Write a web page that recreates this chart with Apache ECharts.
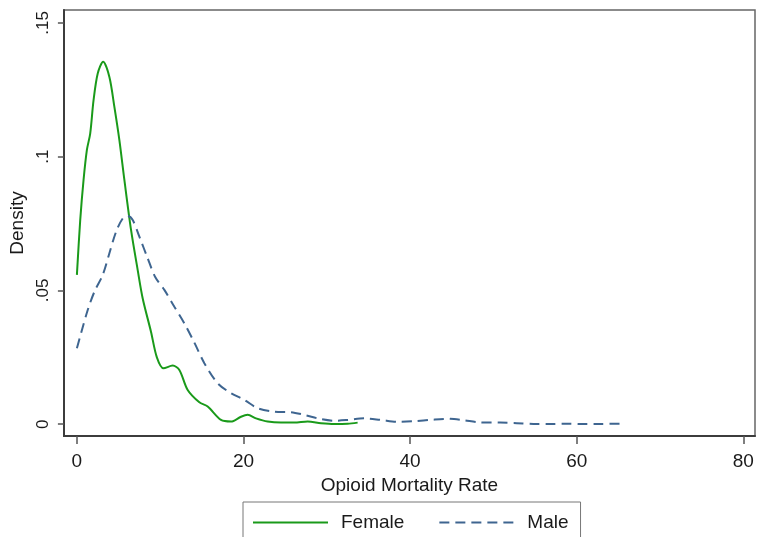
<!DOCTYPE html>
<html>
<head>
<meta charset="utf-8">
<script src="https://cdn.jsdelivr.net/npm/echarts@6/dist/echarts.min.js"></script>
<style>
  html, body { margin: 0; padding: 0; background: #ffffff; }
  #chart { width: 757px; height: 537px; }
</style>
</head>
<body>
<div id="chart"></div>
<script>
// Kernel density estimates of opioid mortality rate, by sex
const femaleRate = [0, 0.4, 0.8, 1.2, 1.6, 2.0, 2.5, 3.15, 3.9, 4.5, 5.1, 5.7, 6.5, 7.3, 7.9, 8.9, 9.6, 10.4, 11.5, 12.3, 13.3, 14.7, 15.7, 17.3, 18.5, 19.7, 20.5, 21.5, 22.9, 24.5, 26.1, 27.7, 29.3, 30.9, 32.5, 33.7];
const femaleDensity = [0.0558, 0.0763, 0.0913, 0.1025, 0.1087, 0.1211, 0.1311, 0.1355, 0.1298, 0.1186, 0.1062, 0.0913, 0.0726, 0.0576, 0.0470, 0.0345, 0.0250, 0.0209, 0.0219, 0.0203, 0.0128, 0.0082, 0.0066, 0.0016, 0.0010, 0.0028, 0.0035, 0.0022, 0.0010, 0.0006, 0.0006, 0.0010, 0.0004, 0.0001, 0.0002, 0.0006];

const maleRate = [0, 0.5, 1.3, 2.1, 3.1, 3.9, 4.7, 5.5, 6.1, 6.7, 7.5, 8.5, 9.4, 10.5, 11.7, 12.9, 14.1, 15.3, 16.9, 18.5, 20.1, 21.7, 23.7, 25.7, 27.3, 29.3, 30.9, 32.5, 34.5, 36.5, 38.5, 40.4, 42.8, 44.8, 46.4, 48.4, 50.8, 52.8, 54.8, 56.8, 58.8, 60.8, 62.8, 65.2];
const maleDensity = [0.0284, 0.0340, 0.0427, 0.0495, 0.0558, 0.0639, 0.0719, 0.0769, 0.0778, 0.0763, 0.0701, 0.0620, 0.0550, 0.0502, 0.0439, 0.0377, 0.0305, 0.0228, 0.0153, 0.0116, 0.0091, 0.0060, 0.0047, 0.0045, 0.0035, 0.0019, 0.0013, 0.0016, 0.0022, 0.0016, 0.0009, 0.0011, 0.0017, 0.0020, 0.0015, 0.0007, 0.0006, 0.0004, 0.0001, 0.0001, 0.0002, 0.0001, 0.0001, 0.0002];

const xTicks = [0, 20, 40, 60, 80];
const yTicks = [0, 0.05, 0.1, 0.15];
const yTickLabels = ['0', '.05', '.1', '.15'];

const seriesNames = ['Female', 'Male'];

const pairs = (xs, ys) => xs.map((x, i) => [x, ys[i]]);

const font = '"Liberation Sans", Arial, sans-serif';
const textColor = '#1a1a1a';

const chart = echarts.init(document.getElementById('chart'), null, { renderer: 'canvas' });

chart.setOption({
  backgroundColor: '#ffffff',
  animation: false,
  grid: {
    left: 63, top: 10, width: 692, height: 426,
    show: true, borderColor: '#666666', borderWidth: 1.5,
    backgroundColor: '#ffffff'
  },
  xAxis: {
    type: 'value',
    min: -1.56, max: 81.4,
    name: 'Opioid Mortality Rate',
    nameLocation: 'middle',
    nameGap: 35,
    nameTextStyle: { fontFamily: font, fontSize: 19, color: textColor },
    axisLine: { show: true, onZero: false, lineStyle: { color: '#3c3c3c', width: 2 } },
    axisTick: { show: true, length: 8, customValues: xTicks, lineStyle: { color: '#555', width: 1.5 } },
    axisLabel: { customValues: xTicks, margin: 16, fontFamily: font, fontSize: 19, color: textColor },
    splitLine: { show: false }
  },
  yAxis: {
    type: 'value',
    min: -0.0044, max: 0.1548,
    name: 'Density',
    nameLocation: 'middle',
    nameGap: 34,
    nameRotate: 90,
    nameTextStyle: { fontFamily: font, fontSize: 19, color: textColor },
    axisLine: { show: true, onZero: false, lineStyle: { color: '#3c3c3c', width: 2 } },
    axisTick: { show: true, length: 6, customValues: yTicks, lineStyle: { color: '#555', width: 1.5 } },
    axisLabel: {
      customValues: yTicks,
      rotate: 90,
      margin: 12,
      fontFamily: font, fontSize: 17, color: textColor,
      formatter: (v) => {
        const i = yTicks.findIndex(t => Math.abs(t - v) < 1e-9);
        return i >= 0 ? yTickLabels[i] : '';
      }
    },
    splitLine: { show: false }
  },
  legend: {
    data: seriesNames,
    left: 243, top: 502,
    orient: 'horizontal',
    itemWidth: 75, itemHeight: 14,
    itemGap: 34,
    padding: [11, 12, 24, 9],
    borderColor: '#777777', borderWidth: 1,
    backgroundColor: '#ffffff',
    itemStyle: { opacity: 0 },
    textStyle: { fontFamily: font, fontSize: 19, color: textColor, padding: [0, 0, 0, 8] }
  },
  series: [
    {
      name: seriesNames[0],
      type: 'line',
      data: pairs(femaleRate, femaleDensity),
      symbol: 'none',
      smooth: 0.3,
      lineStyle: { color: '#1a9a1a', width: 2 },
      itemStyle: { color: '#1a9a1a' }
    },
    {
      name: seriesNames[1],
      type: 'line',
      data: pairs(maleRate, maleDensity),
      symbol: 'none',
      smooth: 0.3,
      lineStyle: { color: '#3e6590', width: 2, type: [10, 6] },
      itemStyle: { color: '#3e6590' }
    }
  ]
});
</script>
</body>
</html>
